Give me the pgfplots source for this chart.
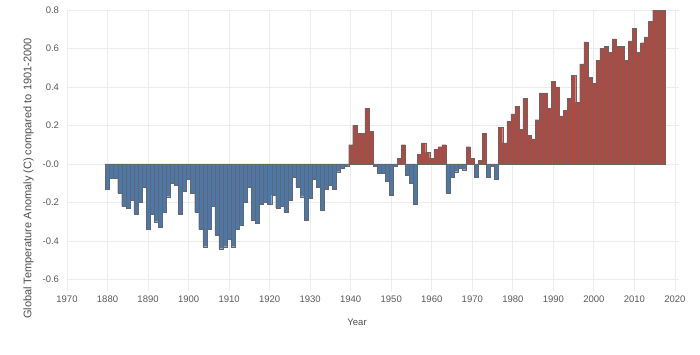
\documentclass[border=0pt]{standalone}
\usepackage{fontspec}
\setmainfont{Liberation Sans}
\usepackage{pgfplots}
\pgfplotsset{compat=1.18}
\definecolor{negblue}{HTML}{4B78AA}
\definecolor{posred}{HTML}{B5473F}
\definecolor{gridc}{HTML}{ECECEC}
\begin{document}
\begin{tikzpicture}
\begin{axis}[
  scale only axis,
  width=612pt, height=281pt,
  xmin=1870, xmax=2021,
  ymin=-0.66, ymax=0.8,
  axis line style={draw=none},
  major tick length=0pt,
  grid=major,
  grid style={gridc, line width=0.8pt},
  ybar, bar width=1, bar shift=0pt,
  xtick={1870,1880,1890,1900,1910,1920,1930,1940,1950,1960,1970,1980,1990,2000,2010,2020},
  xticklabels={1970,1880,1890,1900,1910,1920,1930,1940,1950,1960,1970,1980,1990,2000,2010,2020},
  ytick={-0.6,-0.4,-0.2,0,0.2,0.4,0.6,0.8},
  yticklabels={-0.6,-0.4,-0.2,-0.0,0.2,0.4,0.6,0.8},
  ticklabel style={font=\fontsize{9.5}{11}\selectfont, text=black!65},
  yticklabel style={xshift=-4.5pt},
  xticklabel style={yshift=-1.5pt},
  xlabel={Year},
  ylabel={Global Temperature Anomaly (C) compared to 1901-2000},
  xlabel style={font=\fontsize{9.5}{11}\selectfont, text=black!70, at={(axis description cs:0.474,0)}, anchor=center, yshift=-31pt},
  ylabel style={font=\fontsize{11}{13}\selectfont, text=black!70, at={(axis description cs:-0.063,0.40)}, anchor=center, rotate=0},
  clip=true,
]
\addplot[fill=negblue, draw=black!60, line width=0.3pt] coordinates {
(1880,-0.13) (1881,-0.075) (1882,-0.075) (1883,-0.15) (1884,-0.22) (1885,-0.23) (1886,-0.19) (1887,-0.26) (1888,-0.20) (1889,-0.12)
(1890,-0.34) (1891,-0.26) (1892,-0.30) (1893,-0.33) (1894,-0.25) (1895,-0.17) (1896,-0.10) (1897,-0.11) (1898,-0.26) (1899,-0.14)
(1900,-0.08) (1901,-0.15) (1902,-0.25) (1903,-0.34) (1904,-0.43) (1905,-0.34) (1906,-0.22) (1907,-0.37) (1908,-0.44) (1909,-0.43)
(1910,-0.39) (1911,-0.43) (1912,-0.34) (1913,-0.32) (1914,-0.20) (1915,-0.12) (1916,-0.29) (1917,-0.31) (1918,-0.21) (1919,-0.20)
(1920,-0.21) (1921,-0.16) (1922,-0.23) (1923,-0.22) (1924,-0.25) (1925,-0.19) (1926,-0.07) (1927,-0.12) (1928,-0.17) (1929,-0.29)
(1930,-0.18) (1931,-0.08) (1932,-0.12) (1933,-0.24) (1934,-0.13) (1935,-0.11) (1936,-0.13) (1937,-0.04) (1938,-0.02) (1939,-0.01)
(1946,-0.01) (1947,-0.05) (1948,-0.05) (1949,-0.09) (1950,-0.16) (1951,-0.01) (1954,-0.06) (1955,-0.10) (1956,-0.21)
(1964,-0.15) (1965,-0.07) (1966,-0.04) (1967,-0.02) (1968,-0.03) (1971,-0.07) (1974,-0.07) (1975,-0.01) (1976,-0.08)
};
\addplot[fill=posred, draw=black!60, line width=0.3pt] coordinates {
(1940,0.10) (1941,0.20) (1942,0.16) (1943,0.16) (1944,0.29) (1945,0.17)
(1952,0.03) (1953,0.10) (1957,0.05) (1958,0.11) (1959,0.06) (1960,0.03) (1961,0.075) (1962,0.09) (1963,0.10)
(1969,0.09) (1970,0.03) (1972,0.02) (1973,0.16)
(1977,0.19) (1978,0.11) (1979,0.22) (1980,0.26) (1981,0.30) (1982,0.18) (1983,0.34) (1984,0.15) (1985,0.13) (1986,0.23)
(1987,0.37) (1988,0.37) (1989,0.29) (1990,0.43) (1991,0.40) (1992,0.25) (1993,0.28) (1994,0.34) (1995,0.46) (1996,0.32)
(1997,0.52) (1998,0.635) (1999,0.45) (2000,0.42) (2001,0.54) (2002,0.60) (2003,0.61) (2004,0.58) (2005,0.65) (2006,0.61)
(2007,0.61) (2008,0.54) (2009,0.64) (2010,0.705) (2011,0.58) (2012,0.63) (2013,0.66) (2014,0.74) (2015,0.80) (2016,0.80) (2017,0.80)
};
\end{axis}
\path ([xshift=-67pt,yshift=-64pt]current axis.south west) rectangle ([xshift=633pt,yshift=291pt]current axis.south west);
\end{tikzpicture}
\end{document}
